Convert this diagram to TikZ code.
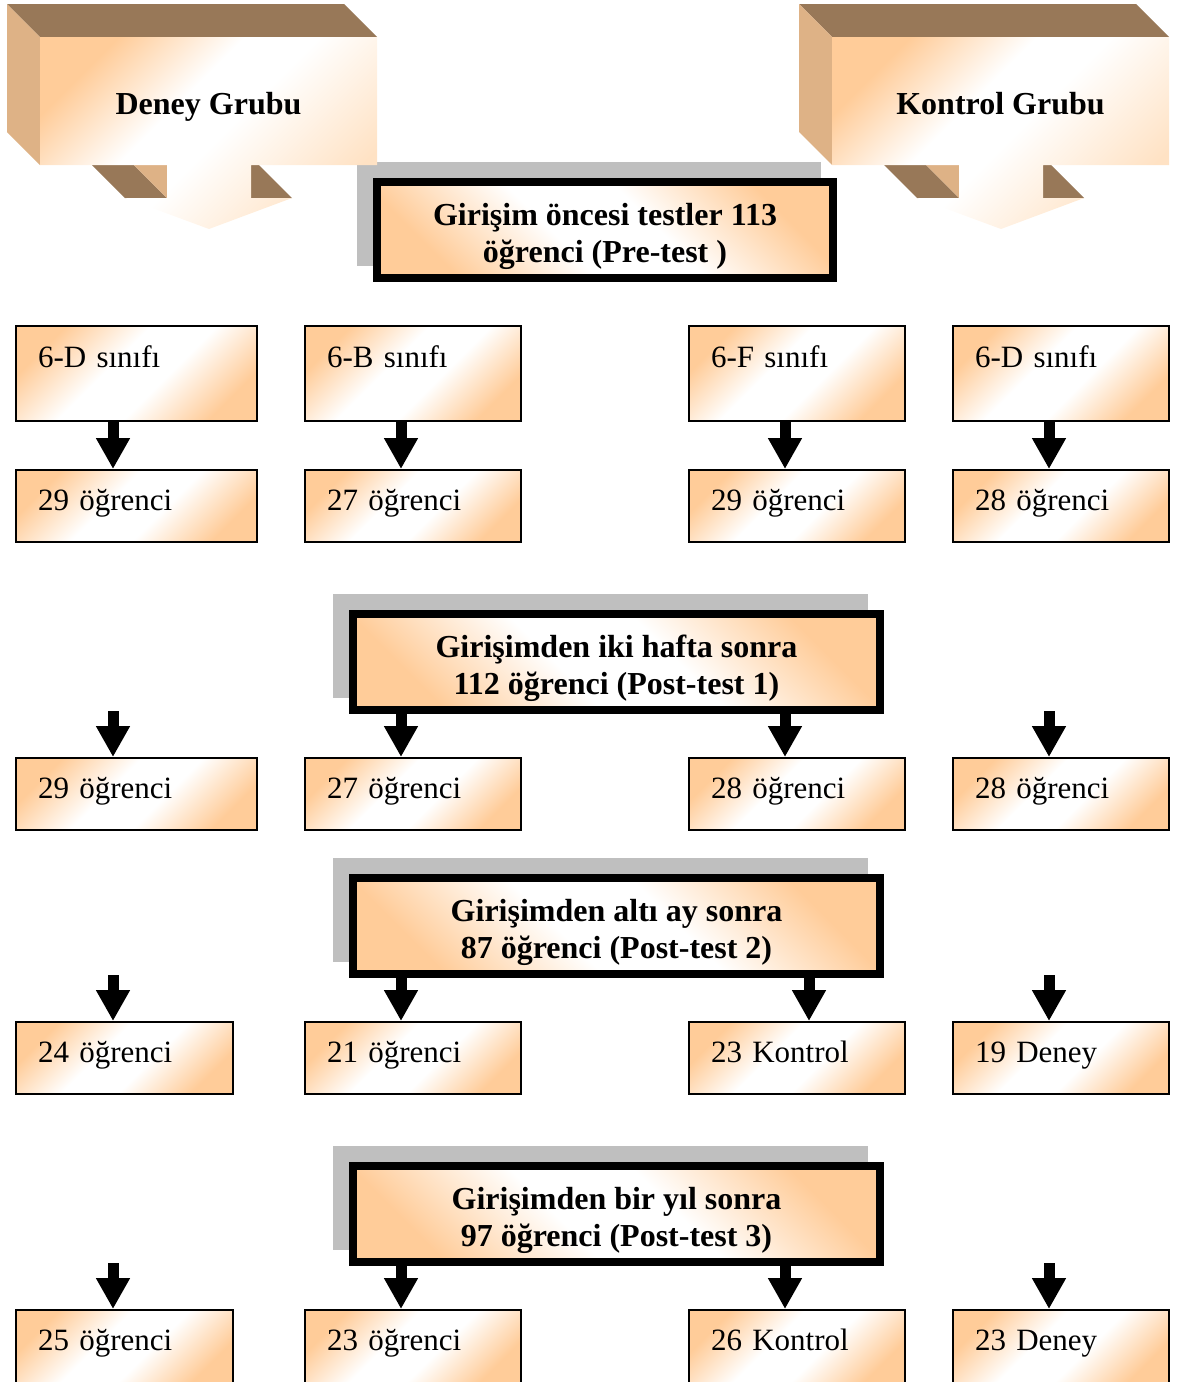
\documentclass[tikz,border=0pt]{standalone}
\usepackage{fontspec}
\setmainfont{Liberation Serif}
\usetikzlibrary{arrows.meta,calc,backgrounds}
\definecolor{peach}{RGB}{255,204,153}
\definecolor{lightpeach}{RGB}{255,226,196}
\definecolor{browntop}{RGB}{152,120,88}
\definecolor{tanside}{RGB}{222,178,134}
\definecolor{shadowgray}{RGB}{191,191,191}
\pgfdeclareverticalshading{peachwhite}{100bp}{color(0bp)=(peach); color(25bp)=(peach); color(43bp)=(white); color(57bp)=(white); color(75bp)=(peach); color(100bp)=(peach)}
\pgfdeclareverticalshading{callshade}{100bp}{color(0bp)=(lightpeach); color(25bp)=(lightpeach); color(48bp)=(white); color(58bp)=(white); color(75bp)=(peach); color(100bp)=(peach)}
\tikzset{
  sbox/.style={draw=black, line width=2pt, inner xsep=22pt, inner ysep=0pt,
    text width=#1, align=left, shading=peachwhite, shading angle=45,
    font=\fontsize{31}{36}\selectfont},
  tallbox/.style={text height=41pt, text depth=54pt},
  shortbox/.style={text height=40pt, text depth=32pt},
  lastbox/.style={text height=40pt, text depth=34pt},
  hbox/.style={draw=black, line width=8pt, align=center, minimum width=#1,
    inner sep=0pt, text height=80pt, text depth=16pt,
    shading=peachwhite, shading angle=-45,
    font=\bfseries\fontsize{32}{36.5}\selectfont},
  calltext/.style={font=\bfseries\fontsize{32}{36}\selectfont, anchor=base},
  barrow/.style={line width=11pt, -{Triangle[width=32pt,length=31pt]}},
  hshadow/.style={fill=shadowgray},
  callfront/.style={shading=callshade, shading angle=45},
}
\begin{document}
\begin{tikzpicture}[x=1pt,y=-1pt]
\useasboundingbox (0,0) rectangle (1177,1382);

% ---- callouts ----
\foreach \dx/\nm/\txt in {0/deney/Deney Grubu, 792/kontrol/Kontrol Grubu}{
\begin{scope}[xshift=\dx pt]
  \fill[browntop] (7,4) -- (344,4) -- (377,37) -- (40,37) -- cycle;
  \fill[tanside] (7,4) -- (40,37) -- (40,165) -- (7,132) -- cycle;
  \fill[browntop] (92,165) -- (134,165) -- (167,198) -- (125,198) -- cycle;
  \fill[tanside] (134,165) -- (167,165) -- (167,198) -- cycle;
  \fill[browntop] (251,165) -- (259,165) -- (292,198) -- (251,198) -- cycle;
  \shade[callfront] (40,37) -- (377,37) -- (377,165) -- (251,165) -- (251,198)
     -- (292,198) -- (209,229) -- (125,198) -- (167,198) -- (167,165) -- (40,165) -- cycle;
  \node[calltext] (\nm) at (208.5,114) {\txt};
\end{scope}
}

% ---- header boxes ----
\node[hbox=456pt] (pre) at (605,230) {Girişim öncesi testler 113\\öğrenci (Pre-test )};
\node[hbox=527pt] (post1) at (616.5,662) {Girişimden iki hafta sonra\\112 öğrenci (Post-test 1)};
\node[hbox=527pt] (post2) at (616.5,926) {Girişimden altı ay sonra\\87 öğrenci (Post-test 2)};
\node[hbox=527pt] (post3) at (616.5,1214) {Girişimden bir yıl sonra\\97 öğrenci (Post-test 3)};

\begin{scope}[on background layer]
  \foreach \h in {pre,post1,post2,post3}{
    \fill[hshadow] ([shift={(-16,-16)}]\h.north west) rectangle ([shift={(-16,-16)}]\h.south east);
  }
\end{scope}

% ---- row A ----
\node[sbox=197pt, tallbox] (a1) at (136.5,373.5) {6-D sınıfı};
\node[sbox=172pt, tallbox] (a2) at (413,373.5) {6-B sınıfı};
\node[sbox=172pt, tallbox] (a3) at (797,373.5) {6-F sınıfı};
\node[sbox=172pt, tallbox] (a4) at (1061,373.5) {6-D sınıfı};
% ---- row B ----
\node[sbox=197pt, shortbox] (b1) at (136.5,506) {29 öğrenci};
\node[sbox=172pt, shortbox] (b2) at (413,506) {27 öğrenci};
\node[sbox=172pt, shortbox] (b3) at (797,506) {29 öğrenci};
\node[sbox=172pt, shortbox] (b4) at (1061,506) {28 öğrenci};
% ---- row C ----
\node[sbox=197pt, shortbox] (c1) at (136.5,794) {29 öğrenci};
\node[sbox=172pt, shortbox] (c2) at (413,794) {27 öğrenci};
\node[sbox=172pt, shortbox] (c3) at (797,794) {28 öğrenci};
\node[sbox=172pt, shortbox] (c4) at (1061,794) {28 öğrenci};
% ---- row D ----
\node[sbox=173pt, shortbox] (d1) at (124.5,1058) {24 öğrenci};
\node[sbox=172pt, shortbox] (d2) at (413,1058) {21 öğrenci};
\node[sbox=172pt, shortbox] (d3) at (797,1058) {23 Kontrol};
\node[sbox=172pt, shortbox] (d4) at (1061,1058) {19 Deney};
% ---- row E ----
\node[sbox=173pt, lastbox] (e1) at (124.5,1347) {25 öğrenci};
\node[sbox=172pt, lastbox] (e2) at (413,1347) {23 öğrenci};
\node[sbox=172pt, lastbox] (e3) at (797,1347) {26 Kontrol};
\node[sbox=172pt, lastbox] (e4) at (1061,1347) {23 Deney};

% ---- arrow end points ----
\coordinate (eb1) at ([xshift=-23.5pt]b1.north);
\coordinate (eb2) at ([xshift=-12pt]b2.north);
\coordinate (eb3) at ([xshift=-12pt]b3.north);
\coordinate (eb4) at ([xshift=-12pt]b4.north);
\coordinate (ec1) at ([xshift=-23.5pt]c1.north);
\coordinate (ec2) at ([xshift=-12pt]c2.north);
\coordinate (ec3) at ([xshift=-12pt]c3.north);
\coordinate (ec4) at ([xshift=-12pt]c4.north);
\coordinate (ed1) at ([xshift=-11.5pt]d1.north);
\coordinate (ed2) at ([xshift=-12pt]d2.north);
\coordinate (ed3) at ([xshift=12pt]d3.north);
\coordinate (ed4) at ([xshift=-12pt]d4.north);
\coordinate (ee1) at ([xshift=-11.5pt]e1.north);
\coordinate (ee2) at ([xshift=-12pt]e2.north);
\coordinate (ee3) at ([xshift=-12pt]e3.north);
\coordinate (ee4) at ([xshift=-12pt]e4.north);
% free starts
\coordinate (sc1) at (113,711);
\coordinate (sc4) at (1049,711);
\coordinate (sd1) at (113,975);
\coordinate (sd4) at (1049,975);
\coordinate (se1) at (113,1263);
\coordinate (se4) at (1049,1263);

% ---- arrows ----
\draw[barrow] (a1.south -| eb1) -- (eb1);
\draw[barrow] (a2.south -| eb2) -- (eb2);
\draw[barrow] (a3.south -| eb3) -- (eb3);
\draw[barrow] (a4.south -| eb4) -- (eb4);

\draw[barrow] (sc1) -- (ec1);
\draw[barrow] (post1.south -| ec2) -- (ec2);
\draw[barrow] (post1.south -| ec3) -- (ec3);
\draw[barrow] (sc4) -- (ec4);

\draw[barrow] (sd1) -- (ed1);
\draw[barrow] (post2.south -| ed2) -- (ed2);
\draw[barrow] (post2.south -| ed3) -- (ed3);
\draw[barrow] (sd4) -- (ed4);

\draw[barrow] (se1) -- (ee1);
\draw[barrow] (post3.south -| ee2) -- (ee2);
\draw[barrow] (post3.south -| ee3) -- (ee3);
\draw[barrow] (se4) -- (ee4);
\end{tikzpicture}
\end{document}
